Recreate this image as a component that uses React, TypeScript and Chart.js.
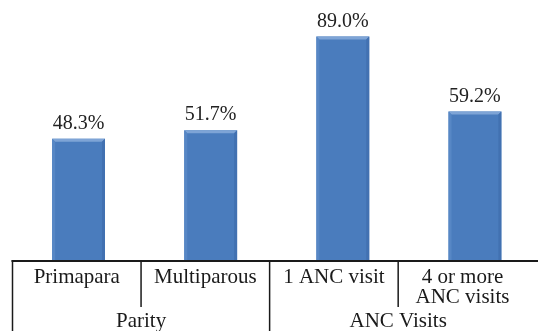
import React, { useEffect, useRef } from "react";
import { Chart, registerables } from "chart.js";

Chart.register(...registerables);

const categoryLines: string[][] = [
  ["Primapara"],
  ["Multiparous"],
  ["1 ANC visit"],
  ["4 or more", "ANC visits"],
];
const categories: string[] = ["Primapara", "Multiparous", "1 ANC visit", "4 or more ANC visits"];
const groupNames: string[] = ["Parity", "ANC Visits"];
const groupSpans: number[] = [2, 2];
const values: number[] = [48.3, 51.7, 89.0, 59.2];
const valueLabels: string[] = ["48.3%", "51.7%", "89.0%", "59.2%"];

const FONT = '"Liberation Serif", "Times New Roman", serif';

const bevelPlugin = {
  id: "bevel",
  afterDatasetsDraw(chart: any) {
    const ctx = chart.ctx;
    const meta = chart.getDatasetMeta(0);
    meta.data.forEach((bar: any) => {
      const { x, y, width, base } = bar.getProps(["x", "y", "width", "base"], true);
      const l = x - width / 2;
      const r = x + width / 2;
      const b = 3;
      ctx.save();
      ctx.fillStyle = "#7ea4d6";
      ctx.beginPath();
      ctx.moveTo(l, y);
      ctx.lineTo(r, y);
      ctx.lineTo(r - b, y + b);
      ctx.lineTo(l + b, y + b);
      ctx.closePath();
      ctx.fill();
      ctx.fillStyle = "#5787c5";
      ctx.beginPath();
      ctx.moveTo(l, y);
      ctx.lineTo(l + b, y + b);
      ctx.lineTo(l + b, base);
      ctx.lineTo(l, base);
      ctx.closePath();
      ctx.fill();
      ctx.fillStyle = "#4271b1";
      ctx.beginPath();
      ctx.moveTo(r, y);
      ctx.lineTo(r - b, y + b);
      ctx.lineTo(r - b, base);
      ctx.lineTo(r, base);
      ctx.closePath();
      ctx.fill();
      ctx.restore();
    });
  },
};

const labelsPlugin = {
  id: "valueLabels",
  afterDatasetsDraw(chart: any) {
    const ctx = chart.ctx;
    const meta = chart.getDatasetMeta(0);
    ctx.save();
    ctx.font = `20px ${FONT}`;
    ctx.fillStyle = "#222222";
    ctx.textAlign = "center";
    ctx.textBaseline = "middle";
    meta.data.forEach((bar: any, i: number) => {
      ctx.fillText(valueLabels[i], bar.x, bar.y - 15);
    });
    ctx.restore();
  },
};

const tablePlugin = {
  id: "categoryTable",
  afterDraw(chart: any) {
    const ctx = chart.ctx;
    const area = chart.chartArea;
    const n = categories.length;
    const cellW = (area.width / n) * 0.973;
    const left = area.left;
    const top = area.bottom;
    const midY = 307;
    const bottom = chart.height;
    ctx.save();
    ctx.strokeStyle = "#1a1a1a";
    ctx.lineWidth = 2;
    ctx.beginPath();
    ctx.moveTo(left - 1, top + 1);
    ctx.lineTo(chart.width, top + 1);
    ctx.stroke();
    ctx.lineWidth = 1.5;
    let groupStart = 0;
    const groupBounds: number[] = [0];
    groupSpans.forEach((s) => {
      groupStart += s;
      groupBounds.push(groupStart);
    });
    for (let i = 0; i < n; i++) {
      const xx = left + i * cellW;
      const full = groupBounds.includes(i);
      ctx.beginPath();
      ctx.moveTo(xx, top);
      ctx.lineTo(xx, full ? bottom : midY);
      ctx.stroke();
    }
    ctx.font = `21px ${FONT}`;
    ctx.fillStyle = "#1a1a1a";
    ctx.textAlign = "center";
    ctx.textBaseline = "alphabetic";
    categoryLines.forEach((lines, i) => {
      const cx = left + (i + 0.5) * cellW;
      lines.forEach((t, j) => {
        ctx.fillText(t, cx, 282.5 + j * 20);
      });
    });
    groupNames.forEach((g, gi) => {
      const s = groupBounds[gi];
      const e = groupBounds[gi + 1];
      const cx = left + ((s + e) / 2) * cellW;
      ctx.fillText(g, cx, 326.5);
    });
    ctx.restore();
  },
};

export default function App() {
  const ref = useRef<HTMLCanvasElement | null>(null);
  useEffect(() => {
    if (!ref.current) return;
    const chart = new Chart(ref.current, {
      type: "bar",
      data: {
        labels: categories,
        datasets: [
          {
            data: values,
            backgroundColor: "#4a7cbd",
            borderWidth: 0,
            barPercentage: 0.4,
            categoryPercentage: 1,
          },
        ],
      },
      options: {
        animation: false,
        responsive: false,
        maintainAspectRatio: false,
        devicePixelRatio: 1,
        layout: { padding: { left: 12.5, right: 1, top: 9, bottom: 71 } },
        plugins: { legend: { display: false }, tooltip: { enabled: false } },
        scales: {
          x: { display: false },
          y: { display: false, min: 0, max: 100 },
        },
      },
      plugins: [bevelPlugin, labelsPlugin, tablePlugin],
    });
    return () => chart.destroy();
  }, []);
  return (
    <div
      style={{
        position: "absolute",
        left: 0,
        top: 0,
        width: 538,
        height: 331,
        overflow: "hidden",
        background: "#ffffff",
      }}
    >
      <canvas ref={ref} width={542} height={331} style={{ width: 542, height: 331, display: "block" }} />
    </div>
  );
}
